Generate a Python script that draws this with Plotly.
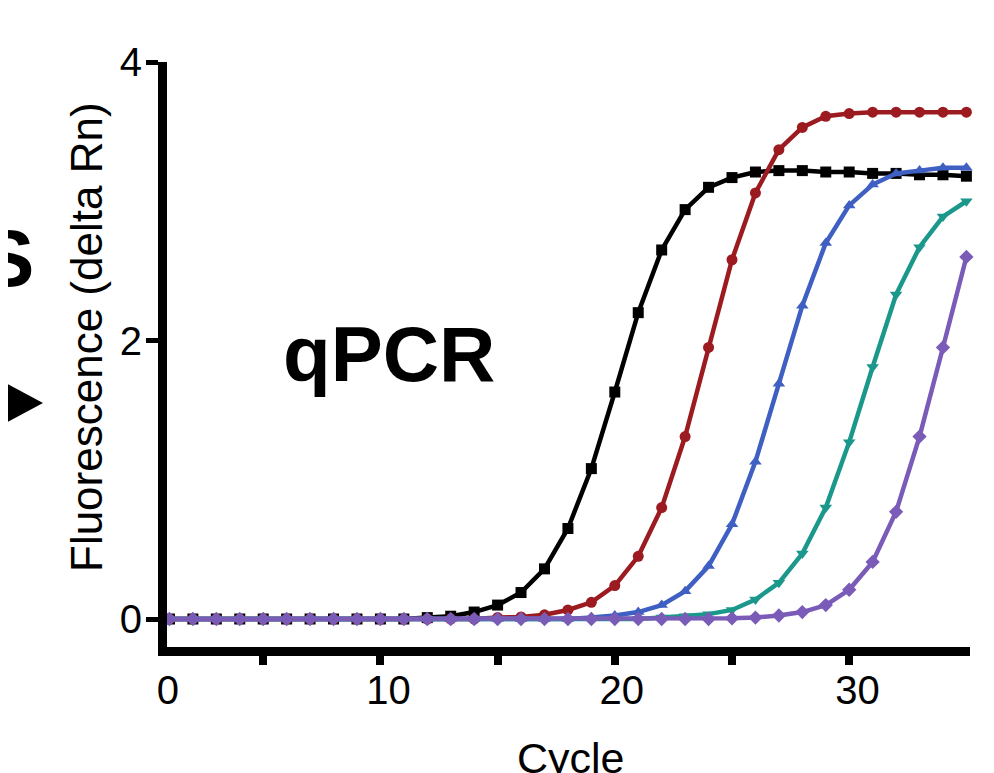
import plotly.graph_objects as go

cycles = list(range(1, 36))

black = [0.0]*11 + [0.01, 0.02, 0.05, 0.10, 0.19, 0.36, 0.65, 1.08, 1.63, 2.20, 2.65, 2.94, 3.10, 3.17,
                    3.21, 3.22, 3.22, 3.21, 3.21, 3.20, 3.20, 3.19, 3.19, 3.18]
red = [0.0]*14 + [0.01, 0.015, 0.03, 0.065, 0.12, 0.24, 0.45, 0.80, 1.31, 1.95, 2.58, 3.06, 3.37,
                  3.53, 3.61, 3.63, 3.64, 3.64, 3.64, 3.64, 3.64]
blue = [0.0]*18 + [0.01, 0.025, 0.05, 0.10, 0.20, 0.38, 0.68, 1.13, 1.69, 2.25, 2.70, 2.97, 3.12,
                   3.20, 3.22, 3.24, 3.24]
teal = [0.0]*21 + [0.01, 0.02, 0.035, 0.065, 0.14, 0.26, 0.47, 0.80, 1.27, 1.81, 2.33, 2.67, 2.89, 3.00]
purple = [0.0]*24 + [0.005, 0.01, 0.025, 0.05, 0.10, 0.21, 0.41, 0.77, 1.31, 1.95, 2.60]

series = [
    ("black", black, "#000000", "square"),
    ("red", red, "#9B1B20", "circle"),
    ("blue", blue, "#3F5FC2", "triangle-up"),
    ("teal", teal, "#1B988B", "triangle-down"),
    ("purple", purple, "#7A5BB8", "diamond"),
]

x_label_pos = [0.93, 10.35, 20.3, 30.35]
x_label_text = ["0", "10", "20", "30"]
x_tick_marks = [5, 10, 15, 20, 25, 30]
y_ticks = [0, 2, 4]

FONT = "Liberation Sans, Arial, sans-serif"

# page body has an 8px margin; work in reference pixel coordinates and subtract it
OFF = 8
W, H = 994 - OFF, 773 - OFF
L, R, T, B = 167 - OFF, 970 - OFF, 62 - OFF, 647 - OFF

fig = go.Figure()
for name, vals, col, sym in series:
    fig.add_trace(go.Scatter(
        x=cycles, y=vals, mode="lines+markers", name=name,
        line=dict(color=col, width=4.5),
        marker=dict(color=col, symbol=sym, size=11, line=dict(width=0)),
        cliponaxis=False, showlegend=False,
    ))

fig.update_layout(
    width=W, height=H,
    margin=dict(l=L, r=W - R, t=T, b=H - B),
    paper_bgcolor="white", plot_bgcolor="white",
    font=dict(family=FONT, color="black"),
    xaxis=dict(
        range=[(167 - 146) / 23.44, (970 - 146) / 23.44],
        showgrid=False, zeroline=False,
        showline=True, linecolor="black", linewidth=9,
        tickmode="array", tickvals=x_label_pos, ticktext=x_label_text,
        ticks="", tickfont=dict(size=40, family=FONT),
        minor=dict(tickmode="array", tickvals=x_tick_marks, ticks="outside",
                   ticklen=9, tickwidth=8, tickcolor="black", showgrid=False),
    ),
    yaxis=dict(
        range=[-(647 - 619) / 139.25, 4.0],
        showgrid=False, zeroline=False,
        showline=True, linecolor="black", linewidth=9,
        tickmode="array", tickvals=y_ticks,
        ticks="outside", ticklen=12, tickwidth=5, tickcolor="black",
        tickfont=dict(size=40, family=FONT),
        ticklabelstandoff=-4,
    ),
)

def px_x(p):
    return (p - OFF - L) / (R - L)

def px_y(p):
    return (B - (p - OFF)) / (B - T)

fig.add_annotation(text="Fluorescence (delta Rn)", xref="paper", yref="paper",
                   x=px_x(86), y=px_y(337), showarrow=False, textangle=-90,
                   font=dict(size=44, family=FONT), xanchor="center", yanchor="middle")
fig.add_annotation(text="Cycle", xref="paper", yref="paper",
                   x=px_x(571), y=px_y(758), showarrow=False,
                   font=dict(size=43, family=FONT), xanchor="center", yanchor="middle")
fig.add_annotation(text="<b>qPCR</b>", xref="paper", yref="paper",
                   x=px_x(389), y=px_y(354), showarrow=False,
                   font=dict(size=78, family=FONT), xanchor="center", yanchor="middle")
fig.add_annotation(text="<b>S</b>", xref="paper", yref="paper",
                   x=px_x(28 + OFF), y=px_y(258), showarrow=False,
                   font=dict(size=80, family=FONT), xanchor="right", yanchor="middle")

fig.add_shape(type="path", xref="paper", yref="paper",
              path=f"M {px_x(0)},{px_y(380)} L {px_x(35 + OFF)},{px_y(403)} L {px_x(0)},{px_y(426)} Z",
              fillcolor="black", line=dict(width=0))

fig.write_html("out.html")
